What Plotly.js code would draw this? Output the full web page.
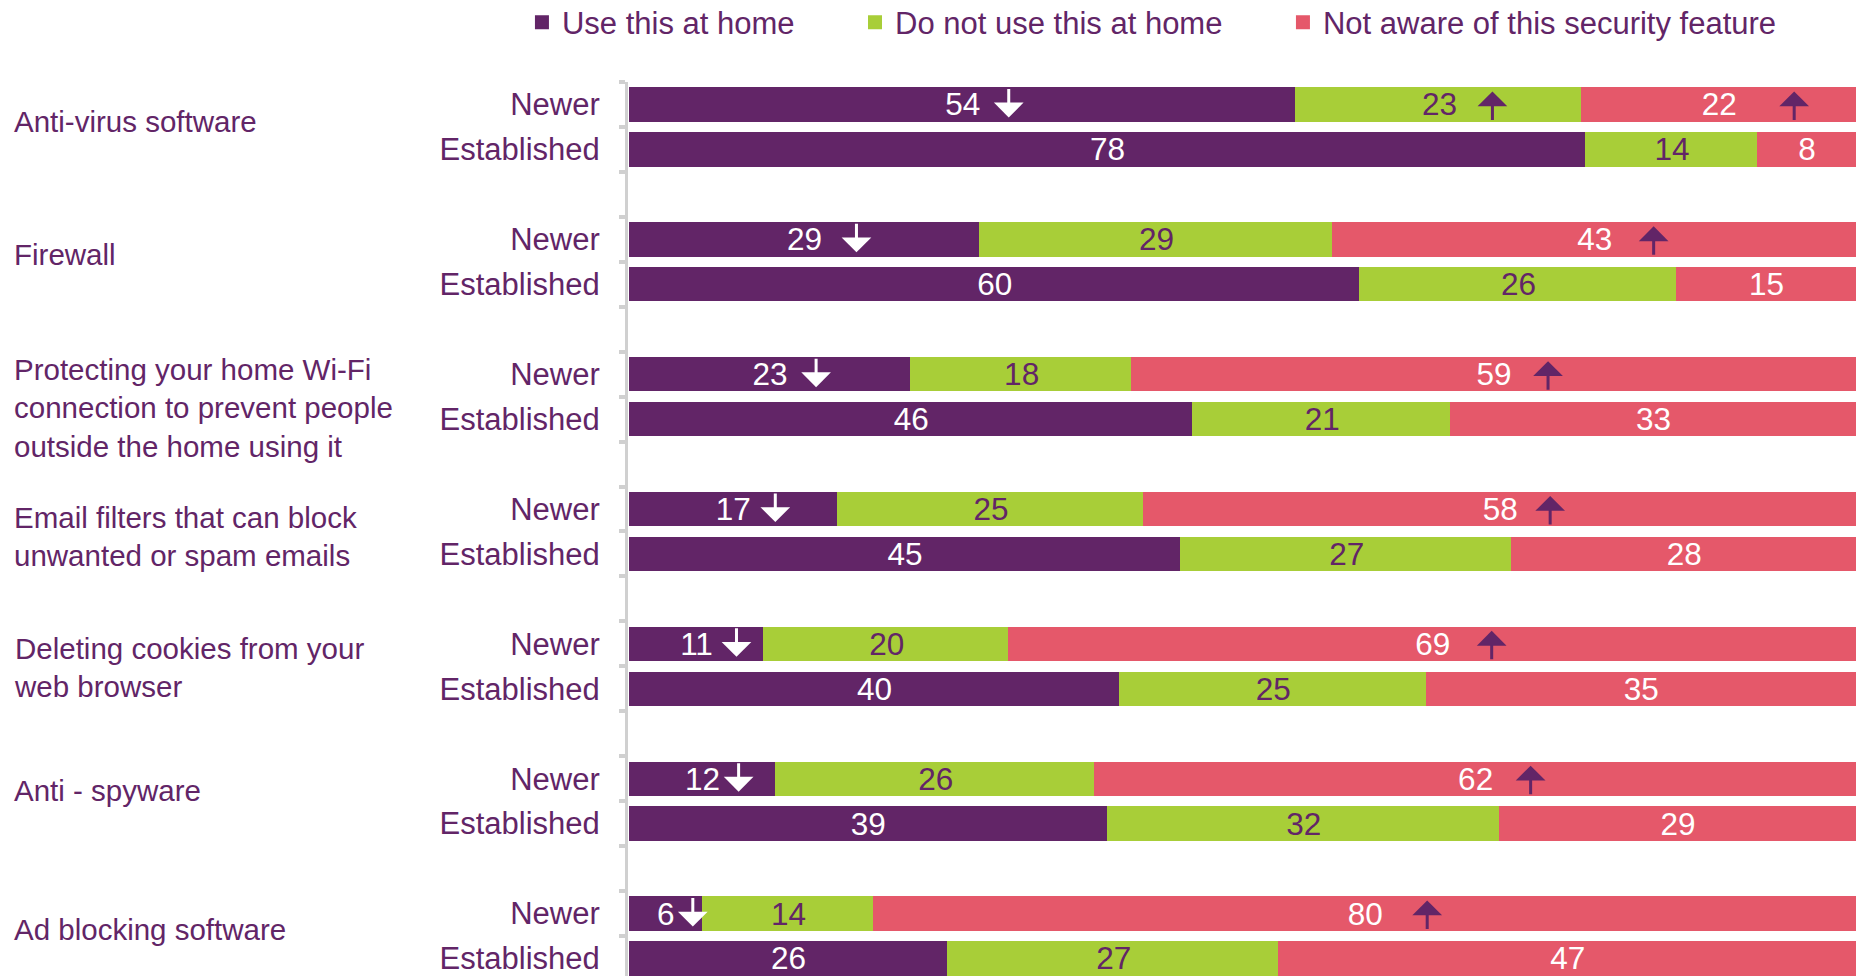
<!DOCTYPE html>
<html>
<head>
<meta charset="utf-8">
<script src="https://cdn.plot.ly/plotly-3.0.1.min.js"></script>
<style>
  html, body { margin: 0; padding: 0; background: #ffffff; }
  #chart { width: 1856px; height: 976px; }
</style>
</head>
<body>
<div id="chart"></div>
<script>
// ---------------- data ----------------
const features = [
  'Anti-virus software',
  'Firewall',
  'Protecting your home Wi-Fi<br>connection to prevent people<br>outside the home using it',
  'Email filters that can block<br>unwanted or spam emails',
  'Deleting cookies from your<br>web browser',
  'Anti - spyware',
  'Ad blocking software'
];
const segments = ['Newer', 'Established'];
const seriesNames = ['Use this at home', 'Do not use this at home', 'Not aware of this security feature'];

// Newer users (%)
const useNewer      = [54.4, 28.6, 23, 17, 11, 12, 6];
const notUseNewer   = [23.3, 28.8, 18, 25, 20, 26, 14];
const unawareNewer  = [22.3, 42.6, 59, 58, 69, 62, 80];
// Established users (%)
const useEst        = [78, 59.6, 46, 45, 40, 39, 26];
const notUseEst     = [14, 25.8, 21, 27, 25, 32, 27];
const unawareEst    = [8, 14.6, 33, 28, 35, 29, 47];

// significant differences for newer users: 'down' / 'up' / ''
const sigUseNewer     = ['down', 'down', 'down', 'down', 'down', 'down', 'down'];
const sigNotUseNewer  = ['up', '', '', '', '', '', ''];
const sigUnawareNewer = ['up', 'up', 'up', 'up', 'up', 'up', 'up'];

// ---------------- style ----------------
const PURPLE = '#622567';
const GREEN  = '#A8CE38';
const RED    = '#E5586A';
const AXIS   = '#D0D0D0';
const FONT   = 'Liberation Sans, Arial, sans-serif';
const colors = [PURPLE, GREEN, RED];
const textColors = ['#ffffff', PURPLE, '#ffffff'];
// pixel offset of each arrow from its segment centre (per series, per feature)
const arrowShift = [
  [46, 52, 46, 42, 40, 36, 27],
  [53, 0, 0, 0, 0, 0, 0],
  [75, 59, 54, 50, 59, 55, 62]
];
// vertical pixel nudge of each feature label
const labelShift = [5, 7, -11, -5, -1, 11, 7];

// ---------------- build ----------------
const cats = [];
features.forEach((f, g) => {
  cats.push(' '.repeat(g) + segments[0]);
  cats.push(' '.repeat(g) + segments[1]);
  cats.push(' '.repeat(g + 1));          // spacer row between features
});

const newerVals = [useNewer, notUseNewer, unawareNewer];
const estVals   = [useEst, notUseEst, unawareEst];
const sigs      = [sigUseNewer, sigNotUseNewer, sigUnawareNewer];

const traces = seriesNames.map((name, s) => {
  const x = [];
  features.forEach((f, g) => { x.push(newerVals[s][g], estVals[s][g], null); });
  return {
    type: 'bar', orientation: 'h', name: name,
    y: cats, x: x,
    marker: { color: colors[s], line: { width: 2, color: colors[s] } },
    texttemplate: '%{x:.0f}',
    textposition: 'inside', insidetextanchor: 'middle', textangle: 0,
    constraintext: 'none', cliponaxis: false,
    textfont: { family: FONT, size: 31.5, color: textColors[s] },
    hoverinfo: 'skip',
    legend: s === 0 ? 'legend' : ('legend' + (s + 1))
  };
});

const annotations = [];
// feature labels
features.forEach((f, g) => {
  annotations.push({
    text: f, xref: 'paper', x: -0.4995, xanchor: 'left', align: 'left',
    yref: 'y', y: 3 * g + 0.5, yanchor: 'middle', yshift: labelShift[g], showarrow: false,
    font: { family: FONT, size: 29.5, color: PURPLE }
  });
});
// significance arrows on the newer rows
features.forEach((f, g) => {
  let start = 0;
  for (let s = 0; s < 3; s++) {
    const v = newerVals[s][g];
    const dir = sigs[s][g];
    if (dir) {
      const down = dir === 'down';
      annotations.push({
        text: ' ', font: { size: 2 },
        xref: 'x', x: start + v / 2, xshift: arrowShift[s][g],
        yref: 'y', y: 3 * g, yshift: down ? -13 : 13,
        showarrow: true, arrowhead: 1, arrowsize: 1.65, arrowwidth: 3,
        arrowcolor: down ? '#ffffff' : PURPLE,
        ax: 0, ay: down ? -31 : 31, standoff: 0, startstandoff: 0
      });
    }
    start += v;
  }
});

const legendBase = {
  orientation: 'h', yanchor: 'middle', y: 1.0664, xanchor: 'left',
  font: { family: FONT, size: 31, color: PURPLE },
  bgcolor: 'rgba(0,0,0,0)', borderwidth: 0, itemwidth: 30
};

const layout = {
  width: 1856, height: 976,
  margin: { l: 626, r: 0, t: 82, b: 0, pad: 0, autoexpand: false },
  paper_bgcolor: '#ffffff', plot_bgcolor: '#ffffff',
  barmode: 'stack', bargap: 0.28,
  font: { family: FONT, size: 30, color: PURPLE },
  showlegend: true,
  legend:  Object.assign({}, legendBase, { x: -0.0846 }),
  legend2: Object.assign({}, legendBase, { x: 0.1862 }),
  legend3: Object.assign({}, legendBase, { x: 0.5341 }),
  xaxis: { range: [0, 100], domain: [3 / 1230, 1], visible: false, fixedrange: true },
  yaxis: {
    type: 'category', categoryorder: 'array', categoryarray: cats,
    range: [19.39, -0.5], autorange: false,
    anchor: 'free', position: 0,
    showline: true, linecolor: AXIS, linewidth: 3,
    ticks: 'outside', ticklen: 6, tickwidth: 4, tickcolor: AXIS, tickson: 'boundaries',
    showgrid: false, zeroline: false, fixedrange: true,
    tickfont: { family: FONT, size: 31, color: PURPLE },
    ticklabelstandoff: 19
  },
  annotations: annotations
};

Plotly.newPlot('chart', traces, layout, { displayModeBar: false, staticPlot: true });
</script>
</body>
</html>
